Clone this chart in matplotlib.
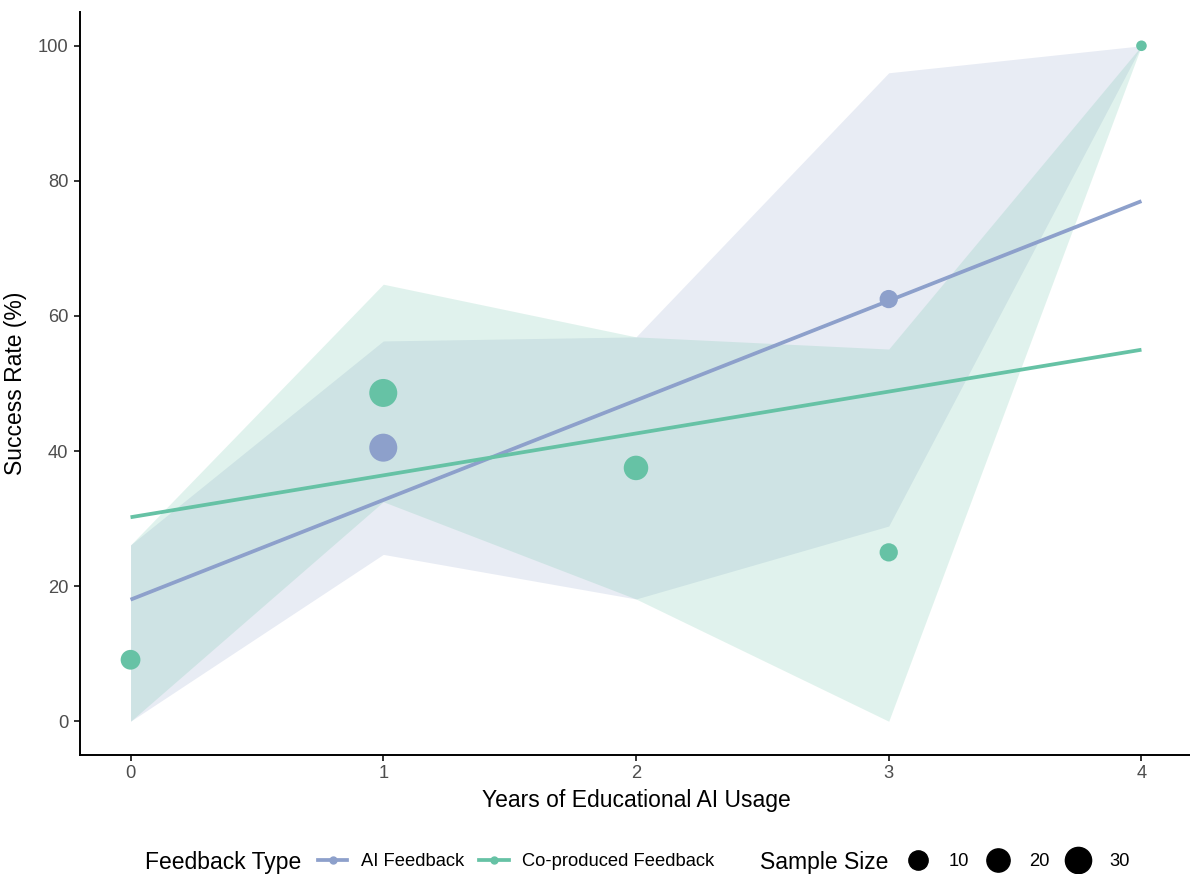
import numpy as np
import matplotlib
matplotlib.use("Agg")
import matplotlib.pyplot as plt
from matplotlib.lines import Line2D

plt.rcParams['font.family'] = ['Liberation Sans', 'DejaVu Sans']

# ---------------- data ----------------
years = [0, 1, 2, 3, 4]
series_names = ["AI Feedback", "Co-produced Feedback"]

ai_x = [1, 3]
ai_rate = [40.5, 62.5]
ai_n = [37, 8]

co_x = [0, 1, 2, 3, 4]
co_rate = [9.1, 48.6, 37.5, 25.0, 100.0]
co_n = [11, 37, 24, 8, 1]

ai_lower = [0.0, 24.7, 18.1, 28.9, 100.0]
ai_upper = [26.1, 56.3, 56.9, 96.0, 100.0]
co_lower = [0.0, 32.5, 18.1, 0.0, 100.0]
co_upper = [26.1, 64.7, 56.9, 55.1, 100.0]

trend_x = [0, 4]
ai_trend = [18.0, 77.0]
co_trend = [30.2, 55.0]

size_breaks = [10, 20, 30]
size_limits = [1, 37]

# ---------------- style ----------------
c_ai = "#8DA0CB"
c_co = "#66C2A5"
DPI = 100


def diam_pt(n):
    lo, hi = size_limits
    r_px = 5.3 + 8.7 * np.sqrt((np.asarray(n, float) - lo) / (hi - lo))
    return 2 * r_px * 72.0 / DPI


fig = plt.figure(figsize=(11.90, 8.74), dpi=DPI)
ax = fig.add_axes([80 / 1190, 1 - 755 / 874, (1192 - 80) / 1190, (755 - 12) / 874])

ax.fill_between(years, ai_lower, ai_upper, color=c_ai, alpha=0.2, lw=0, zorder=1)
ax.fill_between(years, co_lower, co_upper, color=c_co, alpha=0.2, lw=0, zorder=1)

ax.plot(trend_x, ai_trend, color=c_ai, lw=2.7, solid_capstyle='butt', zorder=2)
ax.plot(trend_x, co_trend, color=c_co, lw=2.7, solid_capstyle='butt', zorder=2)

ax.scatter(ai_x, ai_rate, s=diam_pt(ai_n) ** 2, color=c_ai, lw=0, zorder=3)
ax.scatter(co_x, co_rate, s=diam_pt(co_n) ** 2, color=c_co, lw=0, zorder=3)

ax.set_xlim(-0.2, 4.2)
ax.set_ylim(-5, 105)
ax.set_xticks(years)
ax.set_yticks([0, 20, 40, 60, 80, 100])

for s in ["top", "right"]:
    ax.spines[s].set_visible(False)
for s in ["left", "bottom"]:
    ax.spines[s].set_linewidth(1.4)
    ax.spines[s].set_color("black")

ax.tick_params(axis='both', length=4.3, width=1.4, color="#333333",
               labelsize=13.2, labelcolor="#4D4D4D")
ax.tick_params(axis='y', pad=4)
ax.tick_params(axis='x', pad=3)

ax.set_xlabel("Years of Educational AI Usage", fontsize=16.5, labelpad=5)
ax.set_ylabel("Success Rate (%)", fontsize=16.5, labelpad=8)

# ---------------- legends ----------------
ly = 1 - 862 / 874
fig.text(145 / 1190, ly, "Feedback Type", fontsize=16.5, va='center', ha='left')
h1 = [Line2D([], [], color=c_ai, lw=2.7, marker='o', markersize=5),
      Line2D([], [], color=c_co, lw=2.7, marker='o', markersize=5)]
leg1 = fig.legend(h1, series_names, loc='center left', bbox_to_anchor=(318 / 1190, ly),
                  ncol=2, frameon=False, fontsize=13.2, handlelength=1.6,
                  handletextpad=0.72, columnspacing=0.85, borderpad=0, borderaxespad=0)

fig.text(760 / 1190, ly, "Sample Size", fontsize=16.5, va='center', ha='left')
h2 = [Line2D([], [], color='black', lw=0, marker='o', markersize=float(diam_pt(b)))
      for b in size_breaks]
leg2 = fig.legend(h2, [str(b) for b in size_breaks], loc='center left',
                  bbox_to_anchor=(905 / 1190, ly), ncol=3, frameon=False,
                  fontsize=13.2, handlelength=1.4, handletextpad=1.0,
                  columnspacing=0.85, borderpad=0, borderaxespad=0)

fig.savefig("out.png", dpi=DPI)
